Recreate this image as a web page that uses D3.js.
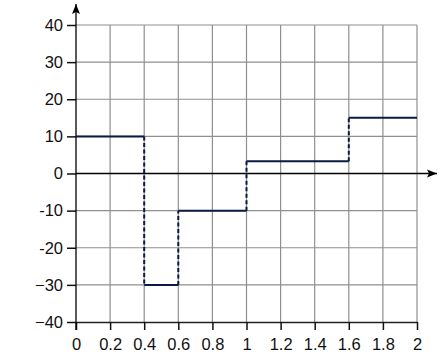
<!DOCTYPE html>
<html>
<head>
<meta charset="utf-8">
<script src="https://cdn.jsdelivr.net/npm/d3@7"></script>
<style>
  body { margin: 0; background: #fff; }
</style>
</head>
<body>
<div class="chart"></div>
<script>
// step pieces: start, end, value
const stepStarts = [0, 0.4, 0.6, 1, 1.6];
const stepEnds = [0.4, 0.6, 1, 1.6, 2];
const stepValues = [10, -30, -10, 3.3, 15];

const xTicks = [0, 0.2, 0.4, 0.6, 0.8, 1, 1.2, 1.4, 1.6, 1.8, 2];
const xTickLabels = ['0', '0.2', '0.4', '0.6', '0.8', '1', '1.2', '1.4', '1.6', '1.8', '2'];
const yTicks = [40, 30, 20, 10, 0, -10, -20, -30, -40];
const yTickLabels = ['40', '30', '20', '10', '0', '-10', '-20', '\u221230', '\u221240'];

const svg_width = 438, svg_height = 362;
const margin = {top: 25, right: 21, bottom: 40, left: 76};
const labelFont = '"Liberation Sans", Arial, sans-serif';

const svg = d3.select('.chart').append('svg')
  .attr('width', svg_width)
  .attr('height', svg_height);

const xScale = d3.scaleLinear([0, 2], [margin.left, svg_width - margin.right]);
const yScale = d3.scaleLinear([-40, 40], [svg_height - margin.bottom, margin.top]);

// grid
const grid = svg.append('g').attr('class', 'grid');
grid.selectAll('.vgrid').data(xTicks.slice(1)).enter().append('line')
  .attr('x1', d => xScale(d)).attr('x2', d => xScale(d))
  .attr('y1', yScale(40)).attr('y2', yScale(-40))
  .style('stroke', '#8f8f8f').style('stroke-width', 1.2);
grid.selectAll('.hgrid').data(yTicks.filter(d => d !== 0 && d !== -40)).enter().append('line')
  .attr('x1', xScale(0)).attr('x2', xScale(2))
  .attr('y1', d => yScale(d)).attr('y2', d => yScale(d))
  .style('stroke', '#8f8f8f').style('stroke-width', 1.2);

// bottom axis with ticks
const xAxis = d3.axisBottom(xScale).tickValues(xTicks)
  .tickFormat((d, i) => xTickLabels[i]).tickSizeInner(8).tickSizeOuter(0).tickPadding(4);
const xAxisDraw = svg.append('g').attr('class', 'x axis')
  .attr('transform', `translate(0,${yScale(-40)})`).call(xAxis)
  .attr('font-size', 16.5).attr('font-family', labelFont);
xAxisDraw.select('.domain').style('stroke', '#222').style('stroke-width', 1.3);
xAxisDraw.selectAll('.tick line').style('stroke', '#111').style('stroke-width', 1.5);
xAxisDraw.selectAll('text').style('fill', '#111').attr('dy', '0.95em');

// left axis ticks
const yAxis = d3.axisLeft(yScale).tickValues(yTicks)
  .tickFormat((d, i) => yTickLabels[i]).tickSizeInner(9).tickSizeOuter(0).tickPadding(4);
const yAxisDraw = svg.append('g').attr('class', 'y axis')
  .attr('transform', `translate(${xScale(0)},0)`).call(yAxis)
  .attr('font-size', 16.5).attr('font-family', labelFont);
yAxisDraw.select('.domain').remove();
yAxisDraw.selectAll('.tick line').style('stroke', '#111').style('stroke-width', 1.5);
yAxisDraw.selectAll('text').style('fill', '#111');

// arrow axes
svg.append('defs').append('marker')
  .attr('id', 'arrow').attr('viewBox', '0 0 10 10')
  .attr('refX', 10).attr('refY', 5)
  .attr('markerWidth', 10).attr('markerHeight', 10)
  .attr('markerUnits', 'userSpaceOnUse')
  .attr('orient', 'auto')
  .append('path').attr('d', 'M0,1 L10,5 L0,9 L2,5 Z').style('fill', '#000');

svg.append('line')
  .attr('x1', xScale(0)).attr('x2', xScale(0))
  .attr('y1', yScale(-40) + 8).attr('y2', 4)
  .style('stroke', '#000').style('stroke-width', 1.3)
  .attr('marker-end', 'url(#arrow)');
svg.append('line')
  .attr('x1', xScale(0)).attr('x2', 437)
  .attr('y1', yScale(0)).attr('y2', yScale(0))
  .style('stroke', '#000').style('stroke-width', 1.3)
  .attr('marker-end', 'url(#arrow)');

// step function
const steps = stepStarts.map((s, i) => ({start: s, end: stepEnds[i], value: stepValues[i]}));
const lineColor = '#0b1a45';

svg.selectAll('.jump').data(steps.slice(1)).enter().append('line')
  .attr('class', 'jump')
  .attr('x1', d => xScale(d.start)).attr('x2', d => xScale(d.start))
  .attr('y1', (d, i) => yScale(steps[i].value)).attr('y2', d => yScale(d.value))
  .style('stroke', lineColor).style('stroke-width', 2)
  .style('stroke-dasharray', '4,2.5');

svg.selectAll('.step').data(steps).enter().append('line')
  .attr('class', 'step')
  .attr('x1', d => xScale(d.start)).attr('x2', d => xScale(d.end))
  .attr('y1', d => yScale(d.value)).attr('y2', d => yScale(d.value))
  .style('stroke', lineColor).style('stroke-width', 2);
</script>
</body>
</html>
